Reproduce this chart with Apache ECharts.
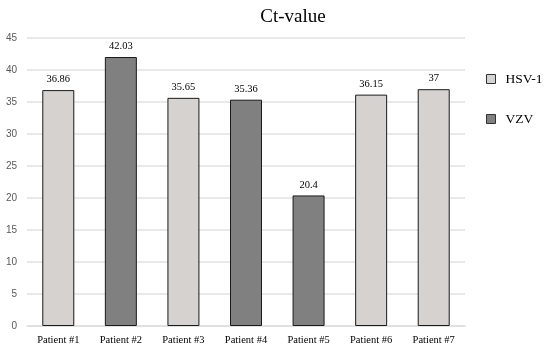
<!DOCTYPE html>
<html><head><meta charset="utf-8">
<script src="https://cdn.jsdelivr.net/npm/echarts@6/dist/echarts.min.js"></script>
<style>html,body{margin:0;padding:0;background:#fff}#c{width:550px;height:353px}</style>
</head><body><div id="c"></div>
<script>
const categories = ['Patient #1','Patient #2','Patient #3','Patient #4','Patient #5','Patient #6','Patient #7'];
const hsv1 = [36.86, null, 35.65, null, null, 36.15, 37];
const vzv = [null, 42.03, null, 35.36, 20.4, null, null];
const yTicks = {min: 0, max: 45, interval: 5};
const serif = '"Liberation Serif","DejaVu Serif",serif';
const chart = echarts.init(document.getElementById('c'));
const lbl = {show: true, position: 'top', distance: 5, fontFamily: serif, fontSize: 10.5, color: '#000',
  formatter: p => String(p.value)};
chart.setOption({
  animation: false,
  title: {text: 'Ct-value', left: 288, top: 3, textAlign: 'center',
    textStyle: {fontFamily: serif, fontWeight: 'normal', fontSize: 19, color: '#000'}},
  legend: {orient: 'vertical', left: 481, top: 67, itemWidth: 9, itemHeight: 9, itemGap: 26,
    icon: 'rect', itemStyle: {borderWidth: 1, borderColor: '#333'},
    textStyle: {fontFamily: serif, fontSize: 13.5, color: '#000', padding: [0,0,0,5]},
    data: ['HSV-1', 'VZV']},
  grid: {left: 27, right: 85, top: 38, bottom: 27},
  xAxis: {type: 'category', data: categories,
    axisLine: {lineStyle: {color: '#dedede', width: 1.5}}, axisTick: {show: false},
    axisLabel: {fontFamily: serif, fontSize: 10.5, color: '#000', margin: 9, interval: 0}},
  yAxis: {type: 'value', min: yTicks.min, max: yTicks.max, interval: yTicks.interval,
    axisLine: {show: false}, axisTick: {show: false},
    axisLabel: {fontFamily: '"Liberation Sans","DejaVu Sans",sans-serif', fontSize: 10, color: '#595959', margin: 10},
    splitLine: {lineStyle: {color: '#e2e2e2', width: 1.5}}},
  series: [
    {name: 'HSV-1', type: 'bar', data: hsv1, barWidth: 32, barGap: '-100%',
      itemStyle: {color: '#d6d2cf', borderColor: '#1a1a1a', borderWidth: 1}, label: lbl},
    {name: 'VZV', type: 'bar', data: vzv, barWidth: 32,
      itemStyle: {color: '#808080', borderColor: '#1a1a1a', borderWidth: 1}, label: lbl}
  ]
});
</script></body></html>
